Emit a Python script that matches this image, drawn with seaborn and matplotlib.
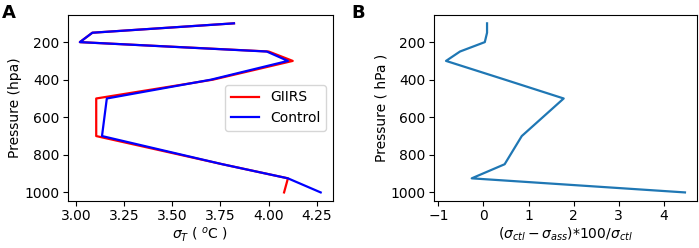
import numpy as np
import pandas as pd
import matplotlib
matplotlib.use("Agg")
import matplotlib.pyplot as plt
import seaborn as sns

# pressure levels (hPa)
levels = [100, 150, 200, 250, 300, 400, 500, 700, 850, 925, 1000]

# std of temperature, panel A
giirs = [3.82, 3.085, 3.02, 4.00, 4.125, 3.71, 3.105, 3.105, 3.76, 4.10, 4.08]
control = [3.82, 3.085, 3.02, 3.99, 4.10, 3.70, 3.16, 3.135, 3.76, 4.10, 4.27]

# relative improvement, panel B
improve = [0.08, 0.08, 0.03, -0.52, -0.83, 0.48, 1.78, 0.85, 0.47, -0.26, 4.47]

dfa = pd.DataFrame({
    "p": levels * 2,
    "sigma": giirs + control,
    "exp": ["GIIRS"] * len(levels) + ["Control"] * len(levels),
})
dfb = pd.DataFrame({"p": levels, "diff": improve})

plt.rcParams["font.size"] = 10
plt.rcParams["xtick.major.pad"] = 2.5
plt.rcParams["ytick.major.pad"] = 2.5
plt.rcParams["axes.labelpad"] = 1.5
fig = plt.figure(figsize=(6.99, 2.48), dpi=100)
ax1 = fig.add_axes([0.097, 0.19, 0.379, 0.75])
ax2 = fig.add_axes([0.621, 0.19, 0.376, 0.75])

sns.lineplot(data=dfa, x="sigma", y="p", hue="exp", sort=False, estimator=None,
             palette={"GIIRS": "red", "Control": "blue"}, linewidth=1.6, ax=ax1)
ax1.invert_yaxis()
ax1.set_xlabel(r"$\sigma_T$ ( $^o$C )")
ax1.set_ylabel("Pressure (hpa)")
ax1.set_xticks([3.0, 3.25, 3.5, 3.75, 4.0, 4.25])
ax1.set_yticks([200, 400, 600, 800, 1000])
ax1.legend(title=None, loc="center right")

sns.lineplot(data=dfb, x="diff", y="p", sort=False, estimator=None,
             color="#1f77b4", linewidth=1.6, ax=ax2)
ax2.invert_yaxis()
ax2.set_xlabel(r"$(\sigma_{ctl}-\sigma_{ass})$*100/$\sigma_{ctl}$")
ax2.set_ylabel("Pressure ( hPa )")
ax2.set_yticks([200, 400, 600, 800, 1000])

fig.text(0.003, 0.985, "A", fontsize=13, fontweight="bold", va="top")
fig.text(0.503, 0.985, "B", fontsize=13, fontweight="bold", va="top")

fig.savefig("out.png", dpi=100)
